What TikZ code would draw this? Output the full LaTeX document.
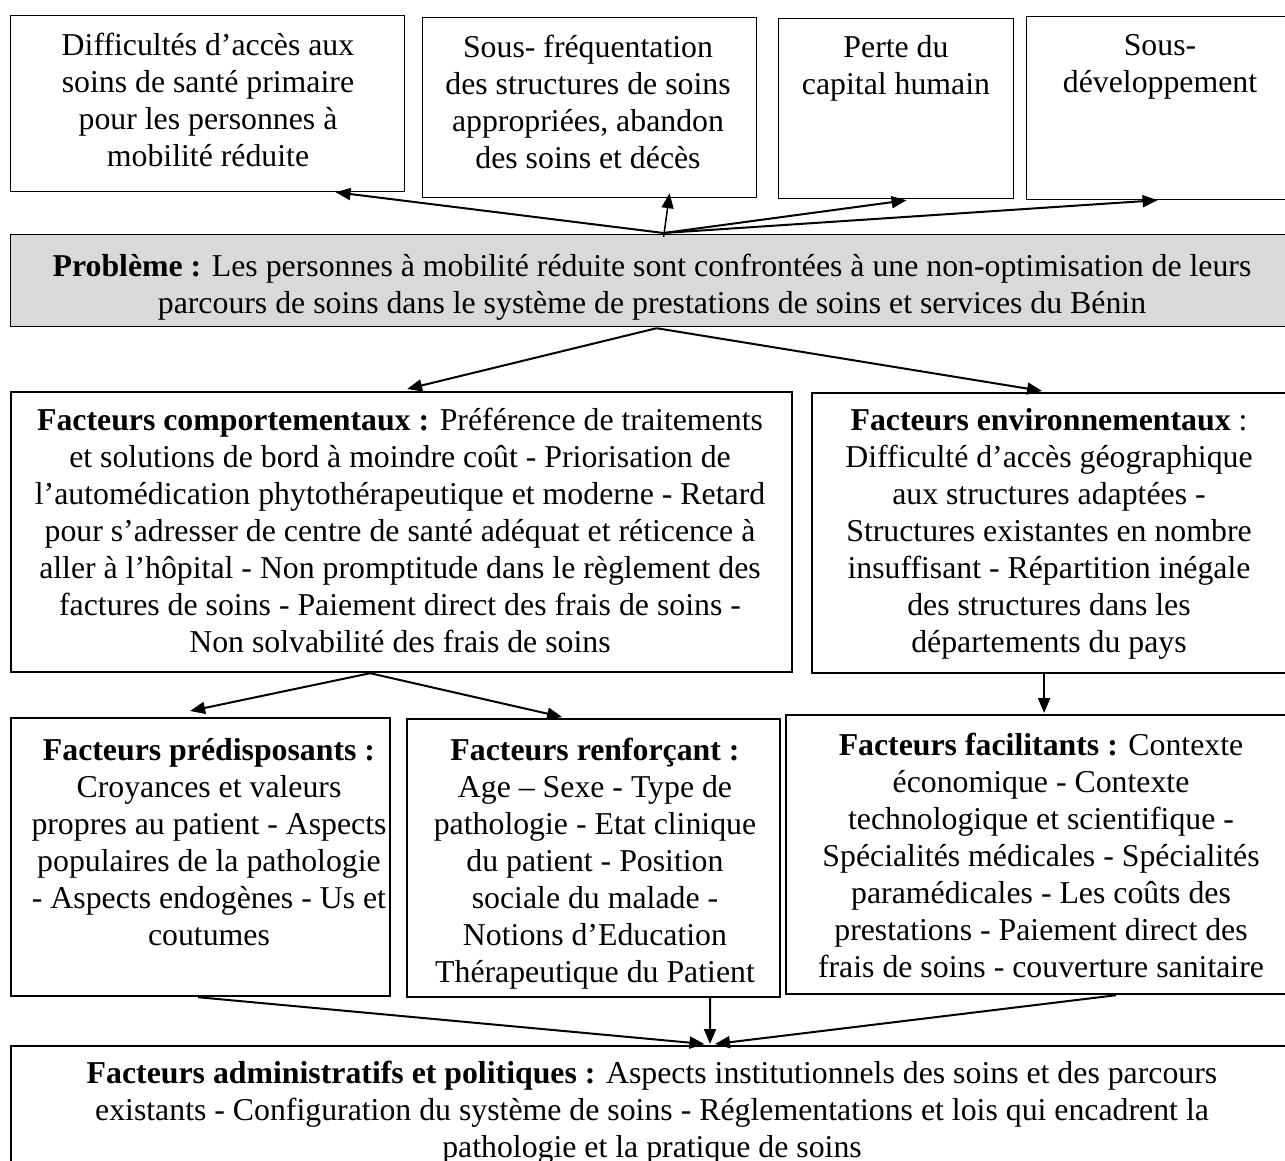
\documentclass[tikz,border=0pt]{standalone}
\usepackage{fontspec}
\setmainfont{Liberation Serif}
\usetikzlibrary{arrows.meta,calc}
\definecolor{probgray}{HTML}{D9D9D9}
\tikzset{
  thinbox/.style={draw=black, line width=1.2pt, inner sep=0pt, anchor=north west},
  boldbox/.style={draw=black, line width=2.2pt, inner sep=0pt, anchor=north west},
  txt/.style={align=center, inner sep=0pt, anchor=base, font=\fontsize{31.8pt}{37pt}\selectfont},
  arr/.style={draw=black, line width=2pt, -{Triangle[length=15pt,width=12pt]}},
  thinarr/.style={draw=black, line width=1.5pt, -{Triangle[length=15pt,width=12pt]}}
}
\begin{document}
\begin{tikzpicture}[x=1pt,y=-1pt]
\useasboundingbox (0,0) rectangle (1285,1160);
% boxes
\node[thinbox, minimum width=394pt, minimum height=176pt] (b1) at (10,15) {};
\node[thinbox, minimum width=334pt, minimum height=180pt] (b2) at (422,17) {};
\node[thinbox, minimum width=235pt, minimum height=180pt] (b3) at (778,18) {};
\node[thinbox, minimum width=268pt, minimum height=183pt] (b4) at (1026,16) {};
\node[thinbox, fill=probgray, minimum width=1284pt, minimum height=92pt] (prob) at (10,234) {};
\node[boldbox, minimum width=781pt, minimum height=280pt] (comp) at (10,391) {};
\node[boldbox, minimum width=479pt, minimum height=280pt] (env) at (811,392) {};
\node[boldbox, minimum width=379pt, minimum height=278pt] (pred) at (10,717) {};
\node[boldbox, minimum width=373pt, minimum height=278pt] (renf) at (406,718) {};
\node[boldbox, minimum width=511pt, minimum height=279pt] (faci) at (785,714) {};
\node[boldbox, line width=2pt, minimum width=1285pt, minimum height=140pt] (admin) at (10,1045) {};
% texts (anchor base = baseline of the last line)
\node[txt] (t1) at (208,166) {Difficultés d’accès aux\\soins de santé primaire\\pour les personnes à\\mobilité réduite};
\node[txt] (t2) at (588,168) {Sous- fréquentation\\des structures de soins\\appropriées, abandon\\des soins et décès};
\node[txt] (t3) at (896,94) {Perte du\\capital humain};
\node[txt] (t4) at (1160,92) {Sous-\\développement};
\node[txt] (tp) at (652,313) {\textbf{Problème :} Les personnes à mobilité réduite sont confrontées à une non-optimisation de leurs\\parcours de soins dans le système de prestations de soins et services du Bénin};
\node[txt] (tc) at (400,652) {\textbf{Facteurs comportementaux :} Préférence de traitements\\et solutions de bord à moindre coût - Priorisation de\\l’automédication phytothérapeutique et moderne - Retard\\pour s’adresser de centre de santé adéquat et réticence à\\aller à l’hôpital - Non promptitude dans le règlement des\\factures de soins - Paiement direct des frais de soins -\\Non solvabilité des frais de soins};
\node[txt] (te) at (1049,652) {\textbf{Facteurs environnementaux} :\\Difficulté d’accès géographique\\aux structures adaptées -\\Structures existantes en nombre\\insuffisant - Répartition inégale\\des structures dans les\\départements du pays};
\node[txt] (tpr) at (209,945) {\textbf{Facteurs prédisposants :}\\Croyances et valeurs\\propres au patient - Aspects\\populaires de la pathologie\\- Aspects endogènes - Us et\\coutumes};
\node[txt] (tr) at (595,982) {\textbf{Facteurs renforçant :}\\Age – Sexe - Type de\\pathologie - Etat clinique\\du patient - Position\\sociale du malade -\\Notions d’Education\\Thérapeutique du Patient};
\node[txt] (tf) at (1041,977) {\textbf{Facteurs facilitants :} Contexte\\économique - Contexte\\technologique et scientifique -\\Spécialités médicales - Spécialités\\paramédicales - Les coûts des\\prestations - Paiement direct des\\frais de soins - couverture sanitaire};
\node[txt] (ta) at (652,1157) {\textbf{Facteurs administratifs et politiques :} Aspects institutionnels des soins et des parcours\\existants - Configuration du système de soins - Réglementations et lois qui encadrent la\\pathologie et la pratique de soins};
% connectors
\draw[arr] ([xshift=11pt,yshift=1pt]prob.north) -- ([xshift=128pt]b1.south);
\draw[thinarr] ([xshift=11pt,yshift=-3pt]prob.north) -- ([xshift=80pt,yshift=5pt]b2.south);
\draw[arr] ([xshift=11pt,yshift=1pt]prob.north) -- ([xshift=10.5pt,yshift=-1pt]b3.south);
\draw[arr] ([xshift=11pt,yshift=1pt]prob.north) -- ([xshift=-3pt]b4.south);
\draw[arr] ([xshift=4pt,yshift=-1pt]prob.south) -- ([xshift=5.5pt,yshift=2pt]comp.north);
\draw[arr] ([xshift=4pt,yshift=-1pt]prob.south) -- ([xshift=-9.5pt,yshift=1pt]env.north);
\draw[arr] ([xshift=-31.5pt]comp.south) -- ([xshift=-10.5pt,yshift=6pt]pred.north);
\draw[arr] ([xshift=-31.5pt]comp.south) -- ([xshift=-31.5pt,yshift=1pt]renf.north);
\draw[arr] ([xshift=-7.5pt]env.south) -- ([xshift=2.5pt,yshift=1pt]faci.north);
\draw[arr] ([xshift=-2.5pt]pred.south) -- ([xshift=51pt,yshift=1pt]admin.north);
\draw[arr] ([xshift=116.5pt]renf.south) -- ([xshift=56.5pt,yshift=1pt]admin.north);
\draw[arr] ([xshift=74.5pt]faci.south) -- ([xshift=61.5pt,yshift=1pt]admin.north);
\end{tikzpicture}
\end{document}
